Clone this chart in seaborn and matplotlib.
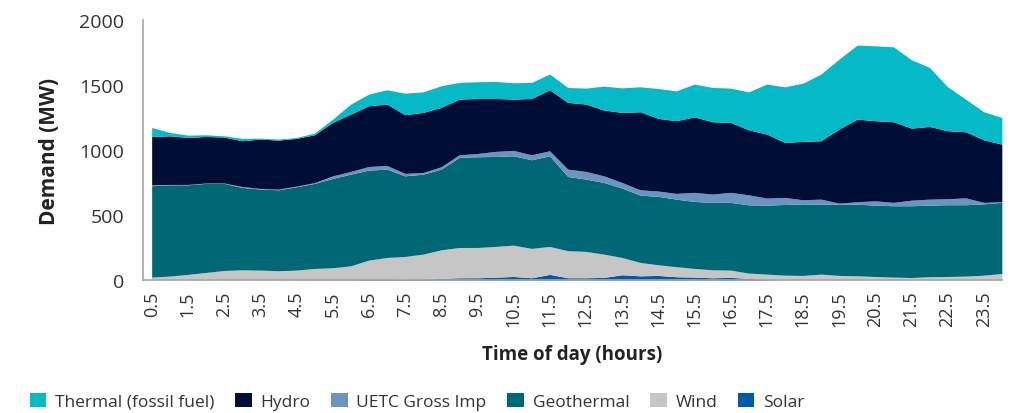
import numpy as np
import pandas as pd
import seaborn as sns
import matplotlib
matplotlib.use("Agg")
import matplotlib.pyplot as plt
from matplotlib.patches import Patch

#%% Data (MW, half-hour periods)
hours = [h / 2 for h in range(1, 49)]
solar = [0, 0, 0, 0, 0, 0, 0, 0, 2, 3, 3, 3, 5, 5, 6, 8,
         13, 18, 18, 22, 28, 18, 44, 18, 18, 21, 41, 33, 36, 26, 23, 18,
         21, 13, 5, 0, 0, 0, 0, 0, 0, 0, 0, 0, 0, 0, 0, 0]
wind = [23, 31, 44, 59, 74, 79, 77, 72, 75, 87, 92, 107, 149, 169, 176, 192,
        220, 233, 233, 237, 241, 226, 215, 208, 203, 179, 133, 103, 82, 77, 67, 61,
        56, 41, 41, 38, 36, 46, 36, 33, 28, 23, 20, 26, 28, 31, 38, 51]
geothermal = [703, 702, 689, 685, 670, 634, 623, 623, 641, 654, 687, 705, 692, 680, 620, 615,
              621, 693, 698, 692, 687, 682, 697, 571, 556, 551, 534, 518, 526, 520, 515, 519,
              521, 525, 531, 544, 549, 539, 549, 551, 549, 549, 552, 551, 552, 549, 549, 547]
uetc = [7, 3, 3, 3, 3, 7, 5, 5, 5, 6, 20, 21, 28, 28, 19, 13,
        18, 20, 25, 39, 42, 38, 39, 57, 59, 51, 43, 41, 41, 44, 70, 64,
        77, 77, 54, 54, 33, 38, 7, 19, 33, 26, 43, 46, 46, 53, 11, 5]
hydro = [372, 374, 361, 358, 353, 352, 380, 377, 367, 368, 411, 441, 467, 472, 451, 462,
         456, 428, 423, 407, 394, 433, 469, 513, 518, 506, 539, 600, 559, 559, 581, 556,
         538, 500, 492, 423, 449, 449, 570, 635, 616, 620, 554, 559, 523, 508, 481, 443]
thermal = [69, 26, 18, 13, 10, 18, 7, 8, 7, 13, 25, 77, 90, 110, 166, 158,
           167, 129, 129, 131, 126, 124, 121, 115, 123, 184, 189, 192, 230, 230, 252, 264,
           264, 292, 385, 428, 448, 513, 538, 570, 576, 577, 526, 454, 338, 251, 216, 205]

series = ["Solar", "Wind", "Geothermal", "UETC Gross Imp", "Hydro", "Thermal (fossil fuel)"]
colors = ["#0059A9", "#C6C6C6", "#006874", "#6D93C1", "#000E35", "#05B9C6"]

df = pd.DataFrame({"Solar": solar, "Wind": wind, "Geothermal": geothermal,
                   "UETC Gross Imp": uetc, "Hydro": hydro,
                   "Thermal (fossil fuel)": thermal}, index=hours)

#%% Plot
sns.set_style("white")
plt.rcParams["font.family"] = ["Open Sans", "DejaVu Sans"]

fig = plt.figure(figsize=(10.14, 4.14), dpi=100)
ax = fig.add_axes([0.141, 0.321, 0.847, 0.628])

x = np.arange(len(hours))
ax.stackplot(x, [df[s] for s in series], colors=colors, linewidth=0)

ax.set_xlim(-0.48, len(hours) - 1)
ax.set_ylim(0, 2000)
ax.set_yticks([0, 500, 1000, 1500, 2000])
ax.set_xticks(x)
ax.set_xticklabels([f"{h:g}" if i % 2 == 0 else "" for i, h in enumerate(hours)],
                   rotation=90)
ax.tick_params(axis="both", colors="#A6A6A6", labelcolor="#333333",
               length=4.5, width=1, direction="out")
ax.tick_params(axis="y", labelsize=14, pad=9)
ax.tick_params(axis="x", labelsize=13, pad=3)

sns.despine(ax=ax)
for sp in ["left", "bottom"]:
    ax.spines[sp].set_color("#A6A6A6")
    ax.spines[sp].set_linewidth(1.2)

ax.set_ylabel("Demand (MW)", fontsize=15, fontweight="bold", color="#222222", labelpad=14)
ax.set_xlabel("Time of day (hours)", fontsize=13.5, fontweight="bold", color="#222222", labelpad=13)

handles = [Patch(facecolor=colors[series.index(s)], edgecolor="none")
           for s in series[::-1]]
fig.legend(handles, series[::-1], loc="lower left", bbox_to_anchor=(0.014, -0.03),
           ncol=6, frameon=False, fontsize=12.5, handlelength=0.95, handleheight=0.9,
           handletextpad=0.5, columnspacing=1.2, labelcolor="#333333")

fig.savefig("out.png", dpi=100)
